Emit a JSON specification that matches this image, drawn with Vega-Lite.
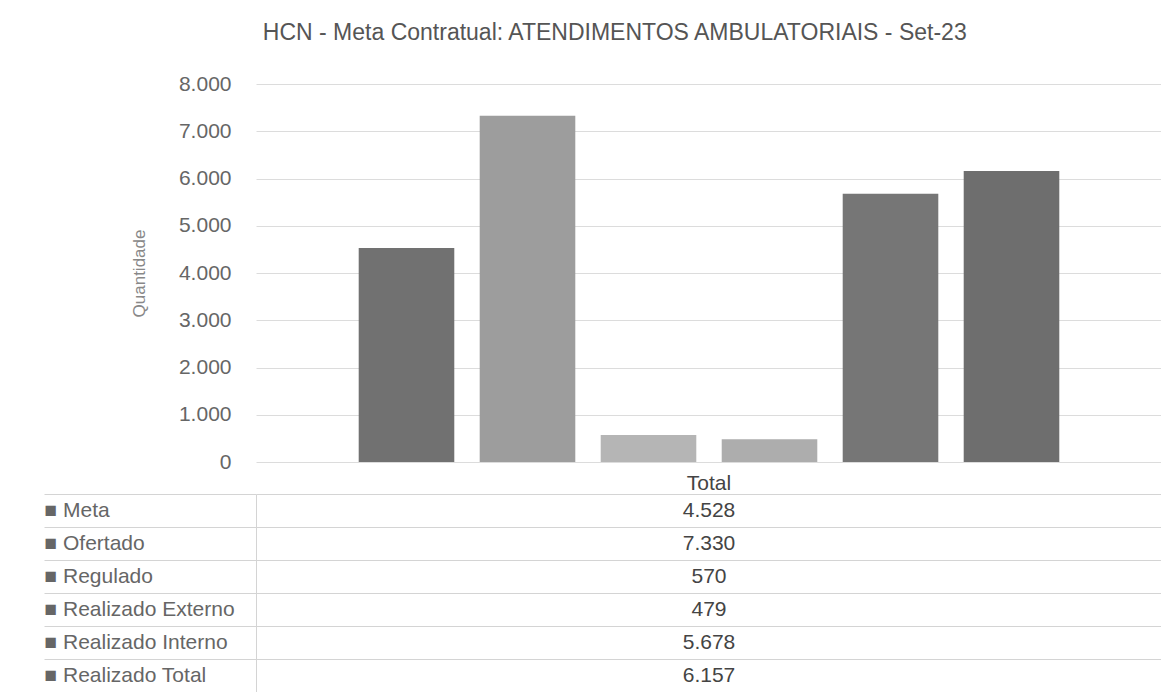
{
  "$schema": "https://vega.github.io/schema/vega-lite/v6.json",
  "background": "white",
  "padding": {"left": 43, "right": 0, "top": 22, "bottom": 0},
  "title": {
    "text": "HCN - Meta Contratual: ATENDIMENTOS AMBULATORIAIS - Set-23",
    "fontSize": 23,
    "font": "Liberation Sans",
    "fontWeight": "normal",
    "color": "#555555",
    "anchor": "middle",
    "dx": 12,
    "offset": 28
  },
  "config": {
    "locale": {"number": {"decimal": ",", "thousands": ".", "grouping": [3], "currency": ["R$", ""]}},
    "view": {"stroke": null},
    "font": "Liberation Sans"
  },
  "datasets": {
    "d": [
      {"categoria": "Total", "serie": "Meta", "valor": 4528},
      {"categoria": "Total", "serie": "Ofertado", "valor": 7330},
      {"categoria": "Total", "serie": "Regulado", "valor": 570},
      {"categoria": "Total", "serie": "Realizado Externo", "valor": 479},
      {"categoria": "Total", "serie": "Realizado Interno", "valor": 5678},
      {"categoria": "Total", "serie": "Realizado Total", "valor": 6157}
    ]
  },
  "spacing": 0,
  "vconcat": [
    {
      "width": 906,
      "height": 378,
      "data": {"name": "d"},
      "mark": {"type": "bar"},
      "encoding": {
        "x": {
          "field": "categoria",
          "type": "nominal",
          "scale": {"paddingInner": 0, "paddingOuter": 0.125},
          "axis": {"title": null, "labelAngle": 0, "domain": false, "ticks": false, "labelFontSize": 21, "labelColor": "#444444", "labelPadding": 10}
        },
        "xOffset": {
          "field": "serie",
          "type": "nominal",
          "sort": ["Meta", "Ofertado", "Regulado", "Realizado Externo", "Realizado Interno", "Realizado Total"],
          "scale": {"paddingInner": 0.21, "paddingOuter": 0.1}
        },
        "y": {
          "field": "valor",
          "type": "quantitative",
          "scale": {"domain": [0, 8000]},
          "axis": {
            "title": "Quantidade",
            "values": [0, 1000, 2000, 3000, 4000, 5000, 6000, 7000, 8000],
            "format": ",d",
            "domain": false,
            "ticks": false,
            "labelPadding": 25,
            "labelFontSize": 21,
            "labelColor": "#666666",
            "gridColor": "#dcdcdc",
            "titleFontSize": 17,
            "titleFontWeight": "normal",
            "titleColor": "#888888",
            "titlePadding": 30
          }
        },
        "color": {
          "field": "serie",
          "type": "nominal",
          "scale": {
            "domain": ["Meta", "Ofertado", "Regulado", "Realizado Externo", "Realizado Interno", "Realizado Total"],
            "range": ["#717171", "#9d9d9d", "#b5b5b5", "#adadad", "#767676", "#6e6e6e"]
          },
          "legend": null
        }
      }
    },
    {
      "width": 906,
      "height": 198,
      "data": {"name": "d"},
      "mark": {"type": "text", "fontSize": 21, "color": "#444444"},
      "encoding": {
        "y": {
          "field": "serie",
          "type": "nominal",
          "sort": ["Meta", "Ofertado", "Regulado", "Realizado Externo", "Realizado Interno", "Realizado Total"],
          "scale": {"type": "band", "paddingInner": 0, "paddingOuter": 0},
          "axis": {
            "title": null,
            "bandPosition": 0,
            "tickSize": 212,
            "tickColor": "#d4d4d4",
            "grid": true,
            "gridColor": "#d4d4d4",
            "domainColor": "#d4d4d4",
            "labelAlign": "left",
            "labelBaseline": "middle",
            "labelPadding": 0,
            "labelLimit": 0,
            "labelFontSize": 21,
            "labelColor": "#666666",
            "labelExpr": "'■ ' + datum.label"
          }
        },
        "text": {"field": "valor", "type": "quantitative", "format": ",d"}
      }
    }
  ]
}
